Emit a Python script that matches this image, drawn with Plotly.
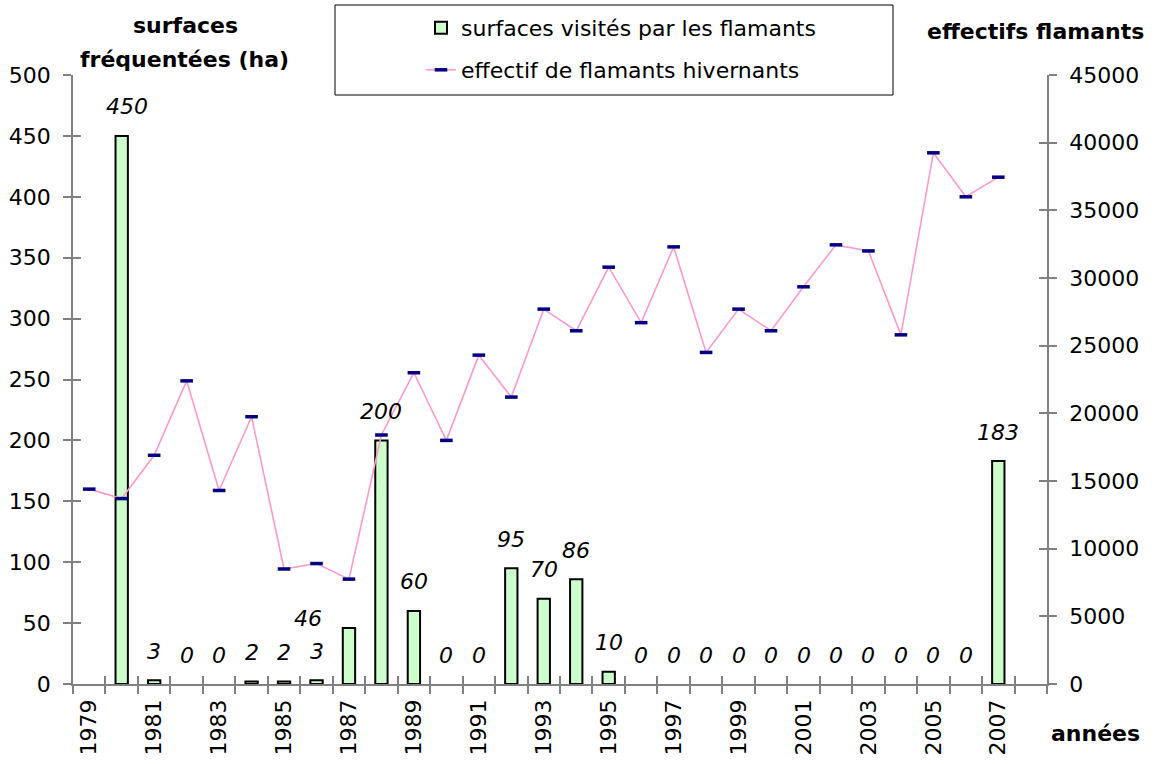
import plotly.graph_objects as go

# ---------------- data ----------------
years = list(range(1979, 2009))  # 30 categories (2008 empty)
tick_years = list(range(1979, 2008, 2))
surfaces = [None, 450, 3, 0, 0, 2, 2, 3, 46, 200, 60, 0, 0, 95, 70, 86, 10,
            0, 0, 0, 0, 0, 0, 0, 0, 0, 0, 0, 183, None]
effectifs = [14400, 13700, 16900, 22400, 14300, 19750, 8500, 8900, 7750, 18400,
             23000, 18000, 24300, 21200, 27700, 26100, 30800, 26700, 32300, 24500,
             27700, 26100, 29350, 32450, 32000, 25800, 39250, 36000, 37450, None]

# ---------------- style / layout constants ----------------
W, H = 1155, 764
L, R, T, B = 73, 108, 75, 80
FONT = "DejaVu Sans"
FS = 22
AXCOL = "#808080"
label_shift = {1980: (5, 29), 1987: (-41, 9)}  # (xshift, yshift) overrides
default_shift = (0, 29)

pw = W - L - R
ph = H - T - B


def px(x):
    return (x - L) / pw


def py(y):
    return (H - B - y) / ph


fig = go.Figure()

fig.add_trace(go.Bar(
    x=years, y=surfaces, name="surfaces visités par les flamants",
    width=0.38,
    marker=dict(color="#CCFFCC",
                line=dict(color="black",
                          width=[0 if v == 0 else 2 for v in surfaces])),
    xaxis="x", yaxis="y", legend="legend", hoverinfo="x+y",
))
fig.add_trace(go.Scatter(
    x=years, y=effectifs, name="effectif de flamants hivernants",
    mode="lines+markers", line=dict(color="#FF99CC", width=1.6),
    marker=dict(symbol="line-ew", size=9, color="#000080",
                line=dict(color="#000080", width=3.5)),
    xaxis="x", yaxis="y2", legend="legend2",
))
# dummy traces to activate overlay axes (for crossing ticks)
fig.add_trace(go.Scatter(x=[None], y=[None], xaxis="x2", yaxis="y3", showlegend=False, hoverinfo="skip"))
fig.add_trace(go.Scatter(x=[None], y=[None], xaxis="x3", yaxis="y4", showlegend=False, hoverinfo="skip"))

boundaries = [y - 0.5 for y in years] + [years[-1] + 0.5]
xr = [years[0] - 0.5, years[-1] + 0.5]

annotations = []
for yr, v in zip(years, surfaces):
    if v is None:
        continue
    xs, ys = label_shift.get(yr, default_shift)
    annotations.append(dict(
        x=yr, y=v, xref="x", yref="y", text=str(v), showarrow=False,
        xanchor="center", yanchor="middle", xshift=xs, yshift=ys,
        font=dict(family=FONT, size=FS, color="black", style="italic"),
    ))

title_font = dict(family=FONT, size=FS, color="black", weight="bold")
for txt, cx, cy in [("surfaces", 185, 25), ("fréquentées (ha)", 184, 59),
                    ("effectifs flamants", 1035, 32), ("années", 1095, 733)]:
    annotations.append(dict(x=px(cx), y=py(cy), xref="paper", yref="paper",
                            text=txt, showarrow=False, xanchor="center",
                            yanchor="middle", font=title_font))

tickfont = dict(family=FONT, size=FS, color="black")

common_x = dict(automargin=False, showgrid=False, zeroline=False)
common_y = dict(automargin=False, showgrid=False, zeroline=False)

fig.update_layout(
    width=W, height=H,
    margin=dict(l=L, r=R, t=T, b=B, pad=0, autoexpand=False),
    paper_bgcolor="white", plot_bgcolor="white",
    font=dict(family=FONT, size=FS, color="black"),
    barmode="overlay",
    xaxis=dict(range=xr, tickmode="array", tickvals=boundaries,
               ticktext=[""] * len(boundaries), ticks="outside", ticklen=8,
               tickwidth=1.5, tickcolor=AXCOL, showline=True, linecolor=AXCOL,
               linewidth=1.5, anchor="y", **common_x),
    xaxis2=dict(matches="x", overlaying="x", anchor="y", tickmode="array",
                tickvals=boundaries, ticks="inside", ticklen=8, tickwidth=1.5,
                tickcolor=AXCOL, showticklabels=False, showline=False,
                side="bottom", **common_x),
    xaxis3=dict(matches="x", overlaying="x", anchor="y", tickmode="array",
                tickvals=tick_years, ticktext=[str(t) for t in tick_years],
                ticks="", tickangle=-90, tickfont=tickfont,
                ticklabelstandoff=10, showline=False, side="bottom", **common_x),
    yaxis=dict(range=[0, 500], dtick=50, tick0=0, ticks="outside", ticklen=8,
               tickwidth=1.5, tickcolor=AXCOL, showline=True, linecolor=AXCOL,
               linewidth=1.5, tickfont=tickfont, ticklabelstandoff=8,
               anchor="x", **common_y),
    yaxis3=dict(range=[0, 500], dtick=50, tick0=0, overlaying="y", side="left",
                anchor="x", ticks="inside", ticklen=8, tickwidth=1.5,
                tickcolor=AXCOL, showticklabels=False, showline=False, **common_y),
    yaxis2=dict(range=[0, 45000], dtick=5000, tick0=0, overlaying="y",
                side="right", anchor="x", ticks="outside", ticklen=8,
                tickwidth=1.5, tickcolor=AXCOL, showline=True, linecolor=AXCOL,
                linewidth=1.5, tickfont=tickfont, tickformat="d",
                ticklabelstandoff=8, **common_y),
    yaxis4=dict(range=[0, 45000], dtick=5000, tick0=0, overlaying="y",
                side="right", anchor="x", ticks="inside", ticklen=8,
                tickwidth=1.5, tickcolor=AXCOL, showticklabels=False,
                showline=False, **common_y),
    legend=dict(x=px(421), y=py(28), xanchor="left", yanchor="middle",
                bgcolor="rgba(0,0,0,0)", borderwidth=0,
                font=dict(family=FONT, size=FS, color="black")),
    legend2=dict(x=px(421), y=py(70), xanchor="left", yanchor="middle",
                 bgcolor="rgba(0,0,0,0)", borderwidth=0,
                 font=dict(family=FONT, size=FS, color="black")),
    shapes=[dict(type="rect", xref="paper", yref="paper",
                 x0=px(335), x1=px(893), y0=py(95), y1=py(5),
                 line=dict(color="black", width=1), fillcolor="rgba(0,0,0,0)")],
    annotations=annotations,
    showlegend=True,
)

fig.write_html("out.html", config={"displayModeBar": False},
               post_script="document.body.style.margin='0';document.body.style.padding='0';")
